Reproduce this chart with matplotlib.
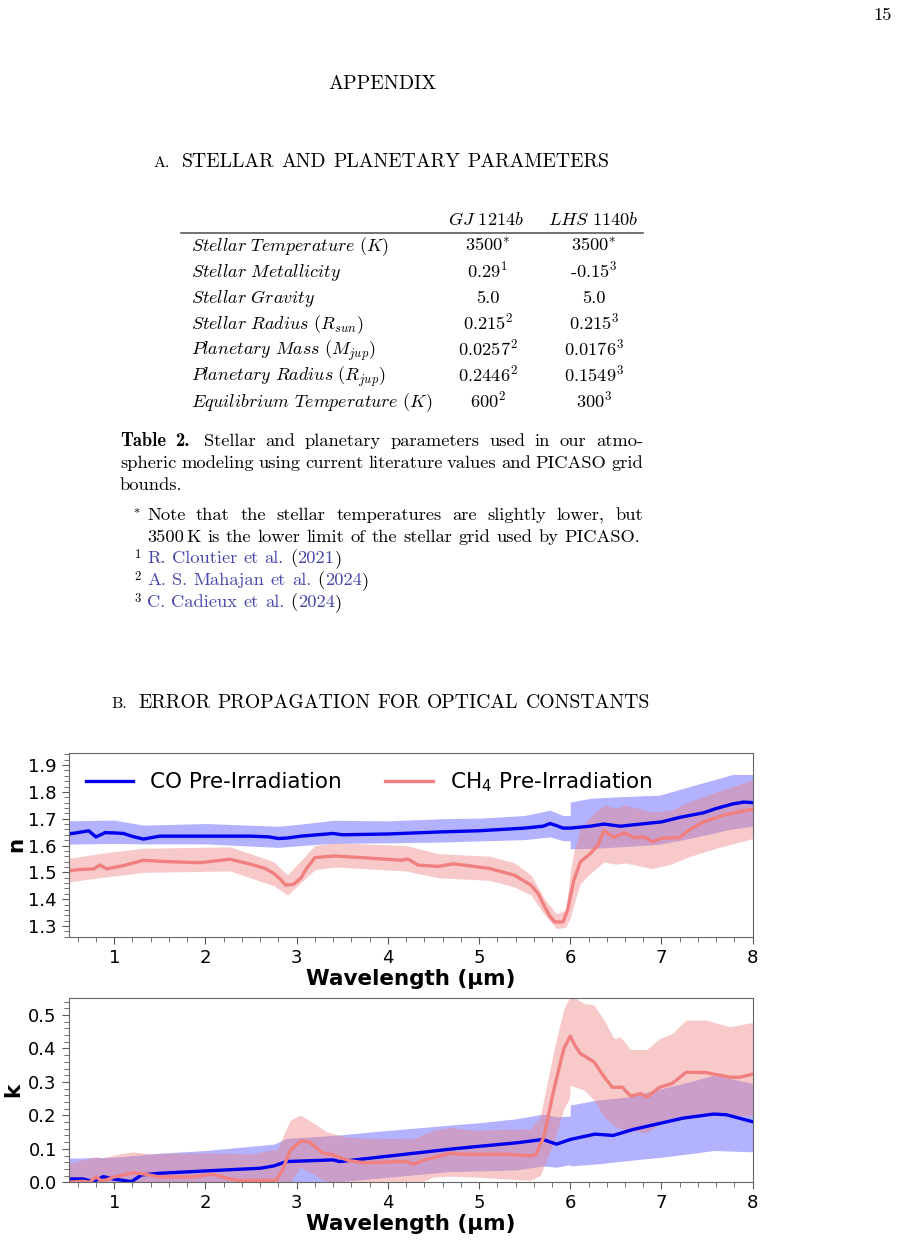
import numpy as np
import matplotlib
matplotlib.use("Agg")
import matplotlib.pyplot as plt
from matplotlib.lines import Line2D
from matplotlib.ticker import MultipleLocator

# ---- data ----
# refractive index n
co_n_wl = [0.5, 0.6, 0.72, 0.8, 0.85, 0.9, 1.0, 1.1, 1.2, 1.32, 1.5, 2.0, 2.5, 2.7, 2.8,
           2.9, 3.05, 3.4, 3.5, 4.0, 4.6, 5.0, 5.5, 5.7, 5.78, 5.85, 5.92, 6.0, 6.22, 6.37,
           6.55, 6.77, 7.0, 7.2, 7.46, 7.6, 7.78, 7.9, 8.0]
co_n = [1.643, 1.648, 1.655, 1.632, 1.640, 1.648, 1.647, 1.645, 1.634, 1.624, 1.635, 1.635,
        1.635, 1.632, 1.626, 1.628, 1.635, 1.645, 1.640, 1.643, 1.651, 1.655, 1.665, 1.672,
        1.682, 1.674, 1.665, 1.665, 1.672, 1.680, 1.672, 1.680, 1.688, 1.705, 1.722, 1.738,
        1.755, 1.762, 1.760]
co_n_band_wl = [0.5, 1.0, 1.32, 2.0, 2.8, 3.05, 3.4, 4.0, 4.6, 5.0, 5.5, 5.78, 5.92, 6.0,
                6.0, 6.22, 6.55, 6.98, 7.3, 7.78, 8.0]
co_n_hi = [1.692, 1.695, 1.676, 1.682, 1.672, 1.680, 1.694, 1.692, 1.700, 1.702, 1.712, 1.732,
           1.712, 1.712, 1.762, 1.776, 1.782, 1.788, 1.819, 1.865, 1.865]
co_n_lo = [1.605, 1.608, 1.606, 1.606, 1.593, 1.600, 1.608, 1.610, 1.613, 1.617, 1.622, 1.632,
           1.618, 1.618, 1.588, 1.589, 1.595, 1.605, 1.626, 1.662, 1.672]

ch4_n_wl = [0.5, 0.6, 0.78, 0.84, 0.92, 1.1, 1.32, 1.57, 1.94, 2.27, 2.5, 2.65, 2.75, 2.82,
            2.88, 2.97, 3.05, 3.1, 3.2, 3.42, 3.8, 4.15, 4.22, 4.33, 4.55, 4.72, 5.12, 5.39,
            5.57, 5.65, 5.72, 5.78, 5.83, 5.92, 5.97, 6.04, 6.11, 6.22, 6.3, 6.37, 6.48,
            6.59, 6.7, 6.81, 6.9, 7.0, 7.2, 7.3, 7.46, 7.68, 8.0]
ch4_n = [1.505, 1.510, 1.513, 1.527, 1.513, 1.525, 1.545, 1.540, 1.536, 1.549, 1.530, 1.515,
         1.496, 1.475, 1.452, 1.456, 1.480, 1.510, 1.555, 1.561, 1.553, 1.545, 1.550, 1.527,
         1.522, 1.532, 1.514, 1.489, 1.452, 1.420, 1.371, 1.335, 1.315, 1.315, 1.359, 1.471,
         1.539, 1.570, 1.600, 1.655, 1.630, 1.648, 1.629, 1.632, 1.614, 1.627, 1.630, 1.657,
         1.688, 1.713, 1.736]
ch4_n_band_wl = [0.5, 0.84, 1.32, 2.27, 2.75, 2.9, 3.2, 3.42, 4.2, 4.55, 5.12, 5.39, 5.57,
                 5.72, 5.85, 5.95, 6.0, 6.04, 6.11, 6.22, 6.37, 6.5, 6.6, 6.9, 7.1, 7.3,
                 7.6, 8.0]
ch4_n_hi = [1.552, 1.570, 1.590, 1.595, 1.540, 1.490, 1.600, 1.610, 1.600, 1.570, 1.560,
            1.535, 1.490, 1.400, 1.345, 1.360, 1.500, 1.580, 1.664, 1.707, 1.751, 1.740,
            1.750, 1.726, 1.730, 1.763, 1.800, 1.844]
ch4_n_lo = [1.464, 1.480, 1.500, 1.505, 1.450, 1.415, 1.510, 1.520, 1.505, 1.480, 1.470,
            1.445, 1.415, 1.340, 1.290, 1.295, 1.330, 1.380, 1.458, 1.496, 1.539, 1.530,
            1.535, 1.514, 1.530, 1.558, 1.590, 1.626]

# extinction coefficient k
co_k_wl = [0.5, 0.66, 0.77, 0.88, 0.99, 1.19, 1.3, 1.5, 2.0, 2.6, 2.75, 2.89, 3.4, 3.47,
           4.13, 4.68, 4.94, 5.41, 5.7, 5.85, 6.0, 6.27, 6.47, 6.69, 6.98, 7.24, 7.57,
           7.71, 8.0]
co_k = [0.010, 0.010, 0.002, 0.017, 0.010, 0.002, 0.022, 0.027, 0.034, 0.042, 0.049, 0.062,
        0.067, 0.062, 0.082, 0.099, 0.106, 0.118, 0.128, 0.114, 0.128, 0.144, 0.140, 0.158,
        0.176, 0.192, 0.204, 0.202, 0.181]
co_k_band_wl = [0.5, 1.0, 1.5, 2.0, 2.75, 2.89, 3.4, 4.0, 4.68, 5.0, 5.41, 5.7, 5.85, 6.0,
                6.0, 6.3, 6.63, 7.0, 7.3, 7.57, 8.0]
co_k_hi = [0.072, 0.075, 0.087, 0.095, 0.114, 0.131, 0.140, 0.155, 0.171, 0.178, 0.190,
           0.204, 0.196, 0.198, 0.231, 0.246, 0.255, 0.280, 0.300, 0.320, 0.296]
co_k_lo = [-0.05, -0.05, -0.04, -0.035, -0.02, -0.01, 0.0, 0.015, 0.032, 0.034, 0.037,
           0.049, 0.045, 0.053, 0.049, 0.055, 0.065, 0.075, 0.085, 0.095, 0.091]

ch4_k_wl = [0.5, 0.66, 0.73, 0.8, 0.87, 1.0, 1.2, 1.3, 1.5, 1.85, 2.07, 2.28, 2.4, 2.78,
            2.85, 2.93, 3.05, 3.14, 3.29, 3.4, 3.57, 3.75, 4.13, 4.2, 4.28, 4.4, 4.55, 4.68,
            4.79, 5.3, 5.56, 5.62, 5.71, 5.76, 5.82, 5.88, 5.93, 6.0, 6.05, 6.11, 6.26,
            6.37, 6.46, 6.57, 6.66, 6.77, 6.84, 6.98, 7.12, 7.27, 7.49, 7.75, 7.86, 8.0]
ch4_k = [0.0, 0.003, 0.0, 0.016, 0.003, 0.016, 0.028, 0.026, 0.016, 0.016, 0.024, 0.009,
         0.005, 0.006, 0.040, 0.096, 0.124, 0.120, 0.087, 0.082, 0.065, 0.058, 0.062, 0.062,
         0.054, 0.067, 0.077, 0.087, 0.084, 0.084, 0.079, 0.082, 0.136, 0.200, 0.276,
         0.345, 0.400, 0.437, 0.410, 0.385, 0.360, 0.316, 0.284, 0.284, 0.258, 0.265,
         0.255, 0.284, 0.296, 0.329, 0.328, 0.314, 0.314, 0.323]
ch4_k_band_wl = [0.5, 0.8, 0.87, 1.0, 1.2, 1.4, 2.0, 2.5, 2.79, 2.93, 3.04, 3.15, 3.33,
                 3.52, 3.75, 4.28, 4.5, 4.68, 4.94, 5.56, 5.67, 5.82, 5.93, 5.99, 6.0, 6.15,
                 6.26, 6.37, 6.48, 6.55, 6.66, 6.84, 6.98, 7.12, 7.27, 7.49, 7.75, 8.0]
ch4_k_hi = [0.057, 0.077, 0.072, 0.082, 0.091, 0.085, 0.088, 0.085, 0.100, 0.186, 0.201,
            0.183, 0.151, 0.136, 0.132, 0.130, 0.156, 0.164, 0.156, 0.160, 0.196, 0.395,
            0.520, 0.550, 0.560, 0.535, 0.530, 0.485, 0.430, 0.435, 0.397, 0.397, 0.430,
            0.445, 0.485, 0.485, 0.465, 0.478]
ch4_k_lo = [-0.05, -0.05, -0.05, -0.05, -0.04, -0.04, -0.04, -0.04, -0.04, 0.0, 0.045,
            0.030, 0.0, -0.02, -0.02, -0.01, 0.016, 0.018, 0.016, 0.006, 0.020, 0.120,
            0.220, 0.250, 0.290, 0.276, 0.246, 0.196, 0.170, 0.160, 0.155, 0.147, 0.176,
            0.190, 0.190, 0.200, 0.200, 0.200]

# table 2
row_labels = [r'$\mathit{Stellar\ Temperature}\ (K)$', r'$\mathit{Stellar\ Metallicity}$',
              r'$\mathit{Stellar\ Gravity}$', r'$\mathit{Stellar\ Radius}\ (R_{sun})$',
              r'$\mathit{Planetary\ Mass}\ (M_{jup})$',
              r'$\mathit{Planetary\ Radius}\ (R_{jup})$',
              r'$\mathit{Equilibrium\ Temperature}\ (K)$']
col_heads = [r'$\mathit{GJ\ 1214b}$', r'$\mathit{LHS\ 1140b}$']
gj1214b_vals = ['3500$^{*}$', '0.29$^{1}$', '5.0', '0.215$^{2}$', '0.0257$^{2}$',
                '0.2446$^{2}$', '600$^{2}$']
lhs1140b_vals = ['3500$^{*}$', '-0.15$^{3}$', '5.0', '0.215$^{3}$', '0.0176$^{3}$',
                 '0.1549$^{3}$', '300$^{3}$']

W, H = 898, 1260
fig = plt.figure(figsize=(W / 100, H / 100), dpi=100)
rend = fig.canvas.get_renderer()

LINK = '#4646a8'
REG = dict(family='cmr10', color='black')
BOLD = dict(family='cmb10', color='black')
BLUE = dict(family='cmr10', color=LINK)
BODY = 13.3
SP = 6.2


def ftext(x, yb, s, size=BODY, **kw):
    kw.setdefault('family', 'cmr10')
    return fig.text(x / W, 1 - yb / H, s, fontsize=size, va='baseline',
                    math_fontfamily='cm', **kw)


def words(s, style, first_gap, sp=SP):
    return [(w, first_gap if i == 0 else sp, style) for i, w in enumerate(s.split())]


def run(parts, x0, yb, size=BODY, x1=None):
    # put pieces one after another, optionally spreading the gaps to reach x1
    arts, widths = [], []
    for s, gap, style in parts:
        st = dict(style)
        sz = st.pop('size', size)
        a = ftext(0, yb, s, sz, **st)
        arts.append(a)
        widths.append(a.get_window_extent(rend).width)
    gaps = [p[1] for p in parts]
    if x1 is not None:
        n = sum(1 for g in gaps[1:] if g > 0)
        extra = (x1 - x0 - sum(widths) - sum(gaps[1:])) / n
        gaps = [gaps[0]] + [g + extra if g > 0 else g for g in gaps[1:]]
    x = x0
    for i, (a, w) in enumerate(zip(arts, widths)):
        if i > 0:
            x += gaps[i]
        a.set_x(x / W)
        x += w


# ---- page text ----
ftext(892, 20, '15', ha='right')
ftext(382, 89, 'APPENDIX', size=14.4, ha='center')
run([('A.', 0, dict(REG, size=11.5))] + words('STELLAR AND PLANETARY PARAMETERS', REG, 11),
    153, 167, size=14.2, x1=609)

ftext(486.5, 225, col_heads[0], size=13.2, ha='center')
ftext(593, 225, col_heads[1], size=13.2, ha='center')
fig.add_artist(Line2D([181 / W, 643 / W], [1 - 233 / H] * 2, color='0.35', lw=1.2))
for i, lab in enumerate(row_labels):
    yb = 251 + 26 * i
    ftext(191, yb, lab, size=13)
    ftext(488, yb, gj1214b_vals[i], ha='center')
    ftext(594, yb, lhs1140b_vals[i], ha='center')

run([('Table', 0, BOLD), ('2.', 6, BOLD)] +
    words('Stellar and planetary parameters used in our atmo-', REG, 11), 120, 446, x1=643)
run(words('spheric modeling using current literature values and PICASO grid', REG, 0),
    120, 468, x1=643)
run(words('bounds.', REG, 0), 120, 490)

ftext(133, 520, '$^{*}$', size=13)
run(words('Note that the stellar temperatures are slightly lower, but', REG, 0),
    147, 520, x1=643)
run([('3500', 0, REG), ('K', 3, REG)] +
    words('is the lower limit of the stellar grid used by PICASO.', REG, SP), 147, 542)
refs = [('R. Cloutier et al.', '2021'), ('A. S. Mahajan et al.', '2024'),
        ('C. Cadieux et al.', '2024')]
for i, (who, yr) in enumerate(refs):
    yb = 563 + 22 * i
    ftext(134, yb - 1, '$^{%d}$' % (i + 1), size=13)
    run(words(who, BLUE, 0) + [('(', SP, REG), (yr, 0.3, BLUE), (')', 0.3, REG)], 147, yb)

run([('B.', 0, dict(REG, size=11.5))] +
    words('ERROR PROPAGATION FOR OPTICAL CONSTANTS', REG, 11),
    111, 708, size=14.2, x1=650)

# ---- plots ----
blue = '#0000ee'
red = 'lightcoral'
x0, x1 = 68.6, 752.7
ax1 = fig.add_axes([x0 / W, 1 - 936.7 / H, (x1 - x0) / W, (936.7 - 753) / H])
ax2 = fig.add_axes([x0 / W, 1 - 1182.3 / H, (x1 - x0) / W, (1182.3 - 998.3) / H])

ax1.fill_between(co_n_band_wl, co_n_lo, co_n_hi, color='blue', alpha=0.3, lw=0)
ax1.fill_between(ch4_n_band_wl, ch4_n_lo, ch4_n_hi, color=red, alpha=0.42, lw=0)
ax1.plot(co_n_wl, co_n, color=blue, lw=2.4, label='CO Pre-Irradiation')
ax1.plot(ch4_n_wl, ch4_n, color=red, lw=2.4, label=r'CH$_4$ Pre-Irradiation')

ax2.fill_between(co_k_band_wl, co_k_lo, co_k_hi, color='blue', alpha=0.3, lw=0)
ax2.fill_between(ch4_k_band_wl, ch4_k_lo, ch4_k_hi, color=red, alpha=0.42, lw=0)
ax2.plot(co_k_wl, co_k, color=blue, lw=2.4)
ax2.plot(ch4_k_wl, ch4_k, color=red, lw=2.4)

ax1.set_ylim(1.26, 1.945)
ax2.set_ylim(0, 0.55)
for ax, lab, lx in [(ax1, 'n', -0.062), (ax2, 'k', -0.066)]:
    ax.set_xlim(0.5, 8)
    ax.xaxis.set_major_locator(MultipleLocator(1))
    ax.xaxis.set_minor_locator(MultipleLocator(0.2))
    ax.yaxis.set_major_locator(MultipleLocator(0.1))
    ax.yaxis.set_minor_locator(MultipleLocator(0.02))
    ax.tick_params(which='both', direction='out', labelsize=13, color='0.35')
    ax.tick_params(which='major', length=5)
    ax.tick_params(which='minor', length=3.5)
    for s in ax.spines.values():
        s.set_color('0.4')
    ax.set_xlabel('Wavelength (μm)', fontsize=15.5, fontweight='bold')
    ax.xaxis.set_label_coords(0.5, -0.175)
    ax.set_ylabel(lab, fontsize=15.5, fontweight='bold')
    ax.yaxis.set_label_coords(lx, 0.5)

ax1.legend(loc='upper left', ncol=2, frameon=False, fontsize=15.5, handlelength=2.2,
           handletextpad=0.8, columnspacing=2.0, bbox_to_anchor=(0.0, 1.0),
           borderaxespad=0.4)

fig.savefig('out.png', dpi=100)
